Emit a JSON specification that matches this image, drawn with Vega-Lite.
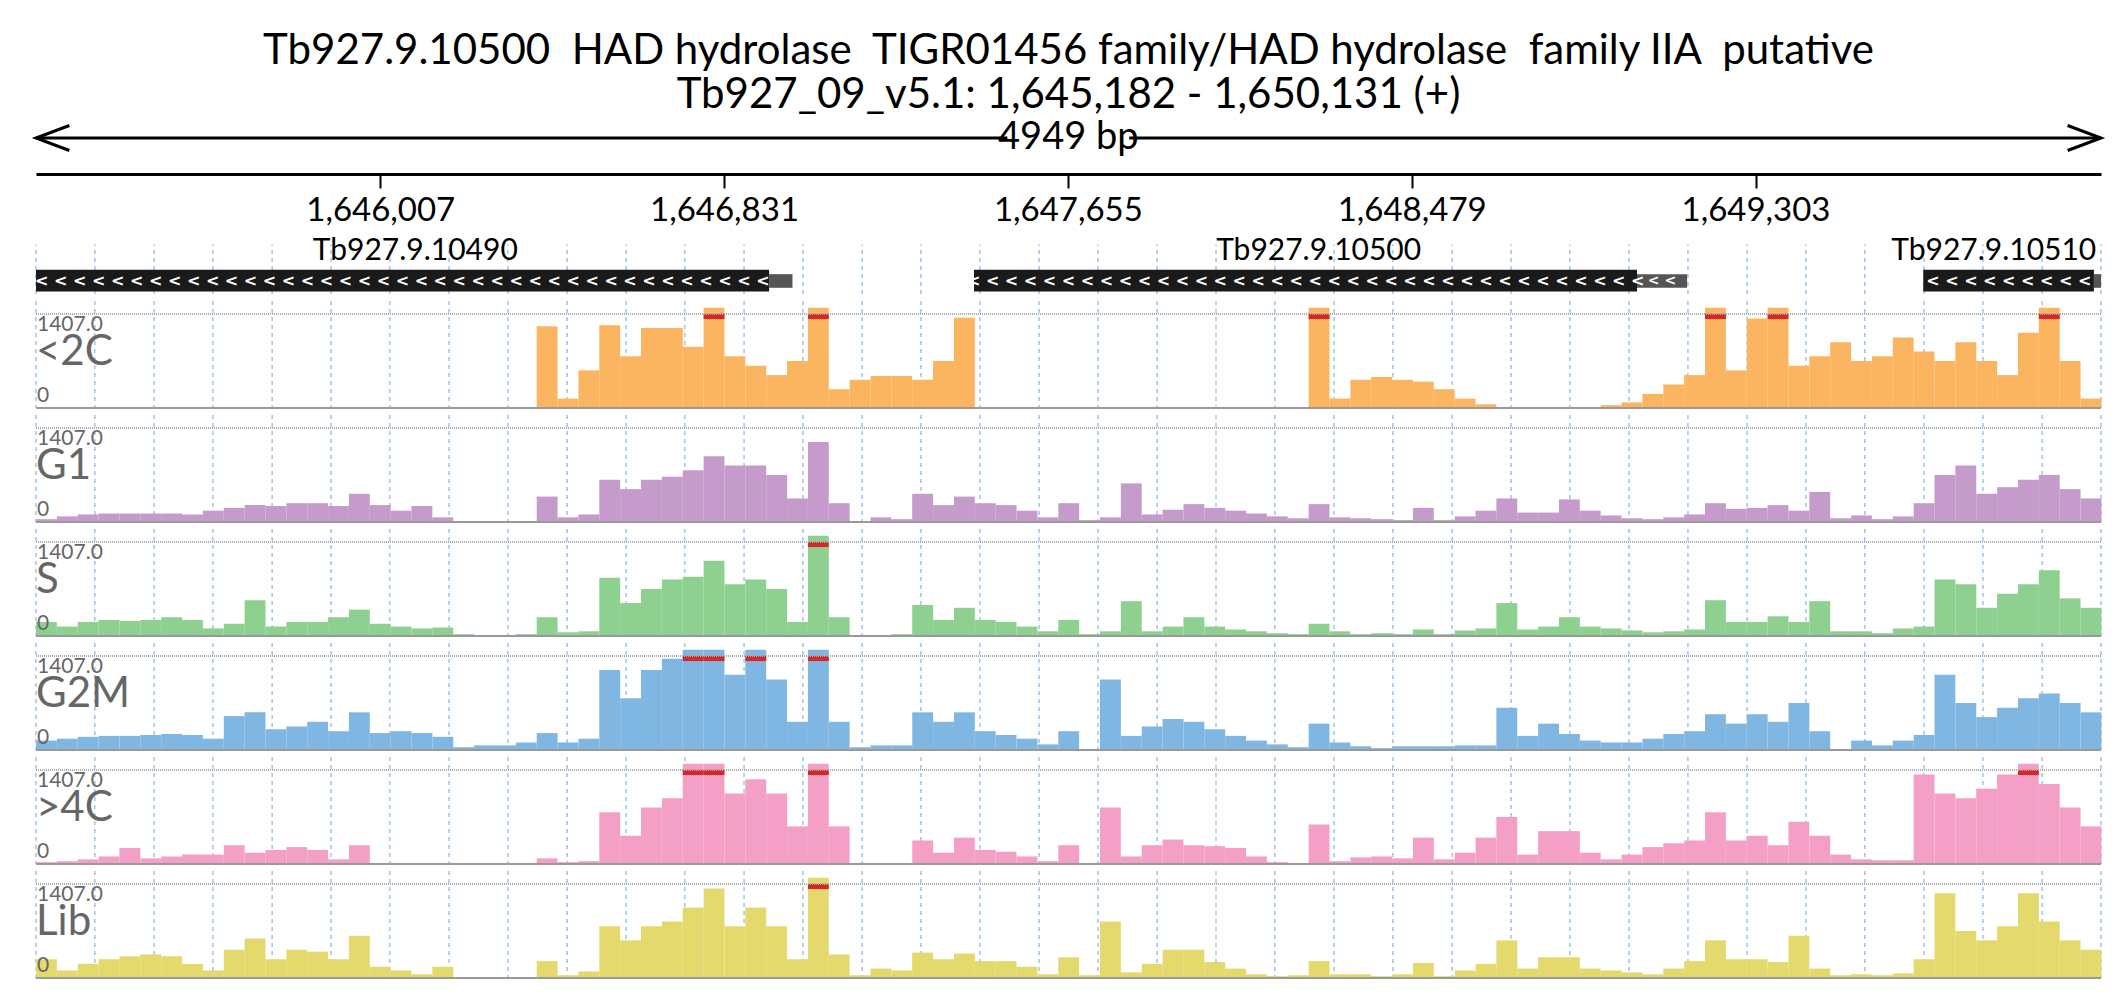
{
  "$schema": "https://vega.github.io/schema/vega-lite/v6.json",
  "background": "white",
  "padding": {"left": 30, "right": 31, "top": 30, "bottom": 0},
  "title": {
    "text": "Tb927.9.10500 \u00a0HAD hydrolase \u00a0TIGR01456 family/HAD hydrolase \u00a0family IIA \u00a0putative",
    "subtitle": "Tb927_09_v5.1: 1,645,182 - 1,650,131 (+)",
    "font": "Lato", "subtitleFont": "Lato", "fontSize": 42, "subtitleFontSize": 42,
    "fontWeight": "normal", "color": "black", "subtitleColor": "black",
    "anchor": "middle", "offset": 2, "subtitlePadding": 2
  },
  "config": {"view": {"stroke": null}, "concat": {"spacing": 5}},
  "datasets": {
    "grid": [
      {"g": 1645182}, {"g": 1645323}, {"g": 1645465}, {"g": 1645606}, {"g": 1645748}, {"g": 1645889},
      {"g": 1646030}, {"g": 1646172}, {"g": 1646313}, {"g": 1646455}, {"g": 1646596}, {"g": 1646737},
      {"g": 1646879}, {"g": 1647020}, {"g": 1647162}, {"g": 1647303}, {"g": 1647444}, {"g": 1647586},
      {"g": 1647727}, {"g": 1647869}, {"g": 1648010}, {"g": 1648151}, {"g": 1648293}, {"g": 1648434},
      {"g": 1648576}, {"g": 1648717}, {"g": 1648858}, {"g": 1649000}, {"g": 1649141}, {"g": 1649283},
      {"g": 1649424}, {"g": 1649565}, {"g": 1649707}, {"g": 1649848}, {"g": 1649990}, {"g": 1650131}
    ],
    "genes": [
      {"name": "Tb927.9.10490", "s": 1645182, "e": 1646939, "ge": 1646995, "lx": 1646091, "cx": 1646060, "chev": "< < < < < < < < < < < < < < < < < < < < < < < < < < < < < < < < < < < < < < <"},
      {"name": "Tb927.9.10500", "s": 1647430, "e": 1649019, "ge": 1649139, "lx": 1648256, "cx": 1648225, "chev": "< < < < < < < < < < < < < < < < < < < < < < < < < < < < < < < < < < < <"},
      {"name": "Tb927.9.10510", "s": 1649705, "e": 1650114, "ge": 1650131, "lx": 1649874, "cx": 1649910, "chev": "< < < < < < < < <"}
    ],
    "cov": [
      {"p":1645182,"q":1645232,"a":0,"b":42,"c":211,"d":141,"e":28,"f":281},
      {"p":1645232,"q":1645282,"a":0,"b":84,"c":141,"d":169,"e":42,"f":113},
      {"p":1645282,"q":1645332,"a":0,"b":113,"c":211,"d":197,"e":70,"f":211},
      {"p":1645332,"q":1645382,"a":0,"b":127,"c":239,"d":211,"e":113,"f":281},
      {"p":1645382,"q":1645432,"a":0,"b":127,"c":225,"d":211,"e":239,"f":324},
      {"p":1645432,"q":1645482,"a":0,"b":127,"c":239,"d":225,"e":84,"f":352},
      {"p":1645482,"q":1645532,"a":0,"b":127,"c":281,"d":239,"e":113,"f":324},
      {"p":1645532,"q":1645582,"a":0,"b":113,"c":239,"d":225,"e":141,"f":211},
      {"p":1645582,"q":1645632,"a":0,"b":169,"c":113,"d":169,"e":141,"f":113},
      {"p":1645632,"q":1645682,"a":0,"b":211,"c":183,"d":507,"e":281,"f":422},
      {"p":1645682,"q":1645732,"a":0,"b":253,"c":535,"d":563,"e":169,"f":591},
      {"p":1645732,"q":1645782,"a":0,"b":239,"c":141,"d":310,"e":211,"f":281},
      {"p":1645782,"q":1645832,"a":0,"b":281,"c":211,"d":352,"e":253,"f":422},
      {"p":1645832,"q":1645882,"a":0,"b":281,"c":211,"d":422,"e":211,"f":394},
      {"p":1645882,"q":1645932,"a":0,"b":239,"c":281,"d":281,"e":70,"f":281},
      {"p":1645932,"q":1645982,"a":0,"b":422,"c":394,"d":563,"e":281,"f":633},
      {"p":1645982,"q":1646032,"a":0,"b":253,"c":183,"d":253,"e":7,"f":169},
      {"p":1646032,"q":1646082,"a":0,"b":169,"c":141,"d":281,"e":7,"f":113},
      {"p":1646082,"q":1646132,"a":0,"b":239,"c":113,"d":253,"e":7,"f":56},
      {"p":1646132,"q":1646182,"a":0,"b":70,"c":127,"d":197,"e":7,"f":169},
      {"p":1646182,"q":1646232,"a":0,"b":7,"c":28,"d":42,"e":7,"f":5},
      {"p":1646232,"q":1646282,"a":0,"b":7,"c":14,"d":70,"e":7,"f":5},
      {"p":1646282,"q":1646332,"a":0,"b":7,"c":14,"d":70,"e":7,"f":5},
      {"p":1646332,"q":1646382,"a":0,"b":7,"c":28,"d":113,"e":7,"f":5},
      {"p":1646382,"q":1646432,"a":1224,"b":380,"c":281,"d":253,"e":84,"f":253},
      {"p":1646432,"q":1646482,"a":141,"b":70,"c":56,"d":113,"e":28,"f":42},
      {"p":1646482,"q":1646532,"a":563,"b":113,"c":70,"d":169,"e":42,"f":98},
      {"p":1646532,"q":1646582,"a":1238,"b":633,"c":872,"d":1196,"e":774,"f":774},
      {"p":1646582,"q":1646632,"a":774,"b":492,"c":492,"d":774,"e":422,"f":563},
      {"p":1646632,"q":1646682,"a":1196,"b":633,"c":704,"d":1196,"e":844,"f":774},
      {"p":1646682,"q":1646732,"a":1196,"b":675,"c":844,"d":1365,"e":985,"f":844},
      {"p":1646732,"q":1646782,"a":915,"b":774,"c":886,"d":1500,"e":1500,"f":1055},
      {"p":1646782,"q":1646832,"a":1500,"b":985,"c":1126,"d":1500,"e":1500,"f":1337},
      {"p":1646832,"q":1646882,"a":774,"b":844,"c":774,"d":1126,"e":1055,"f":774},
      {"p":1646882,"q":1646932,"a":633,"b":844,"c":844,"d":1500,"e":1266,"f":1055},
      {"p":1646932,"q":1646982,"a":492,"b":704,"c":704,"d":1055,"e":1055,"f":774},
      {"p":1646982,"q":1647032,"a":704,"b":352,"c":211,"d":422,"e":563,"f":281},
      {"p":1647032,"q":1647082,"a":1500,"b":1196,"c":1500,"d":1500,"e":1500,"f":1500},
      {"p":1647082,"q":1647132,"a":281,"b":281,"c":281,"d":422,"e":563,"f":352},
      {"p":1647132,"q":1647182,"a":422,"b":14,"c":0,"d":42,"e":0,"f":42},
      {"p":1647182,"q":1647232,"a":478,"b":70,"c":14,"d":70,"e":0,"f":141},
      {"p":1647232,"q":1647282,"a":478,"b":42,"c":28,"d":70,"e":0,"f":113},
      {"p":1647282,"q":1647332,"a":422,"b":422,"c":464,"d":563,"e":352,"f":380},
      {"p":1647332,"q":1647382,"a":704,"b":253,"c":239,"d":422,"e":169,"f":281},
      {"p":1647382,"q":1647432,"a":1351,"b":380,"c":422,"d":563,"e":394,"f":366},
      {"p":1647432,"q":1647482,"a":0,"b":281,"c":239,"d":281,"e":211,"f":253},
      {"p":1647482,"q":1647532,"a":0,"b":253,"c":211,"d":225,"e":183,"f":253},
      {"p":1647532,"q":1647582,"a":0,"b":169,"c":141,"d":169,"e":113,"f":169},
      {"p":1647582,"q":1647632,"a":0,"b":70,"c":70,"d":84,"e":42,"f":56},
      {"p":1647632,"q":1647682,"a":0,"b":281,"c":239,"d":281,"e":281,"f":310},
      {"p":1647682,"q":1647732,"a":0,"b":28,"c":28,"d":14,"e":0,"f":42},
      {"p":1647732,"q":1647782,"a":0,"b":70,"c":70,"d":1055,"e":844,"f":844},
      {"p":1647782,"q":1647832,"a":0,"b":577,"c":521,"d":211,"e":113,"f":84},
      {"p":1647832,"q":1647882,"a":0,"b":113,"c":70,"d":352,"e":281,"f":211},
      {"p":1647882,"q":1647932,"a":0,"b":183,"c":141,"d":464,"e":366,"f":422},
      {"p":1647932,"q":1647982,"a":0,"b":267,"c":281,"d":422,"e":281,"f":422},
      {"p":1647982,"q":1648032,"a":0,"b":211,"c":141,"d":310,"e":267,"f":239},
      {"p":1648032,"q":1648082,"a":0,"b":169,"c":98,"d":211,"e":239,"f":141},
      {"p":1648082,"q":1648132,"a":0,"b":127,"c":70,"d":141,"e":113,"f":56},
      {"p":1648132,"q":1648182,"a":0,"b":84,"c":42,"d":84,"e":28,"f":28},
      {"p":1648182,"q":1648232,"a":0,"b":56,"c":28,"d":42,"e":14,"f":42},
      {"p":1648232,"q":1648282,"a":1500,"b":267,"c":183,"d":394,"e":591,"f":253},
      {"p":1648282,"q":1648332,"a":141,"b":70,"c":70,"d":113,"e":42,"f":56},
      {"p":1648332,"q":1648382,"a":422,"b":56,"c":28,"d":56,"e":98,"f":56},
      {"p":1648382,"q":1648432,"a":464,"b":42,"c":42,"d":28,"e":113,"f":28},
      {"p":1648432,"q":1648482,"a":422,"b":28,"c":28,"d":56,"e":84,"f":56},
      {"p":1648482,"q":1648532,"a":394,"b":211,"c":98,"d":56,"e":394,"f":225},
      {"p":1648532,"q":1648582,"a":281,"b":28,"c":28,"d":56,"e":70,"f":28},
      {"p":1648582,"q":1648632,"a":141,"b":84,"c":84,"d":70,"e":169,"f":113},
      {"p":1648632,"q":1648682,"a":56,"b":169,"c":113,"d":70,"e":394,"f":211},
      {"p":1648682,"q":1648732,"a":14,"b":352,"c":492,"d":633,"e":704,"f":563},
      {"p":1648732,"q":1648782,"a":0,"b":141,"c":98,"d":211,"e":141,"f":141},
      {"p":1648782,"q":1648832,"a":0,"b":141,"c":141,"d":394,"e":492,"f":310},
      {"p":1648832,"q":1648882,"a":7,"b":338,"c":281,"d":239,"e":492,"f":310},
      {"p":1648882,"q":1648932,"a":14,"b":169,"c":141,"d":141,"e":169,"f":141},
      {"p":1648932,"q":1648982,"a":42,"b":98,"c":113,"d":113,"e":70,"f":113},
      {"p":1648982,"q":1649032,"a":84,"b":56,"c":84,"d":113,"e":141,"f":84},
      {"p":1649032,"q":1649082,"a":211,"b":42,"c":56,"d":169,"e":253,"f":56},
      {"p":1649082,"q":1649132,"a":352,"b":70,"c":70,"d":239,"e":310,"f":141},
      {"p":1649132,"q":1649182,"a":492,"b":113,"c":98,"d":281,"e":352,"f":253},
      {"p":1649182,"q":1649232,"a":1500,"b":281,"c":535,"d":535,"e":774,"f":563},
      {"p":1649232,"q":1649282,"a":563,"b":197,"c":211,"d":394,"e":352,"f":281},
      {"p":1649282,"q":1649332,"a":1337,"b":211,"c":211,"d":535,"e":422,"f":281},
      {"p":1649332,"q":1649382,"a":1500,"b":253,"c":295,"d":422,"e":281,"f":239},
      {"p":1649382,"q":1649432,"a":633,"b":169,"c":211,"d":704,"e":633,"f":633},
      {"p":1649432,"q":1649482,"a":774,"b":450,"c":521,"d":281,"e":422,"f":141},
      {"p":1649482,"q":1649532,"a":985,"b":56,"c":70,"d":0,"e":141,"f":42},
      {"p":1649532,"q":1649582,"a":704,"b":98,"c":70,"d":141,"e":70,"f":56},
      {"p":1649582,"q":1649632,"a":774,"b":42,"c":42,"d":70,"e":56,"f":42},
      {"p":1649632,"q":1649682,"a":1055,"b":84,"c":113,"d":141,"e":56,"f":70},
      {"p":1649682,"q":1649732,"a":844,"b":281,"c":141,"d":225,"e":1337,"f":281},
      {"p":1649732,"q":1649782,"a":704,"b":704,"c":844,"d":1126,"e":1055,"f":1266},
      {"p":1649782,"q":1649832,"a":985,"b":844,"c":774,"d":704,"e":985,"f":704},
      {"p":1649832,"q":1649882,"a":704,"b":422,"c":422,"d":492,"e":1126,"f":563},
      {"p":1649882,"q":1649932,"a":492,"b":521,"c":633,"d":633,"e":1337,"f":774},
      {"p":1649932,"q":1649982,"a":1126,"b":633,"c":774,"d":774,"e":1500,"f":1266},
      {"p":1649982,"q":1650032,"a":1500,"b":704,"c":985,"d":844,"e":1196,"f":844},
      {"p":1650032,"q":1650082,"a":704,"b":492,"c":563,"d":704,"e":844,"f":563},
      {"p":1650082,"q":1650132,"a":141,"b":352,"c":422,"d":563,"e":563,"f":422}
    ],
    "arrow": [
      {"k": "L", "o": 1, "x": 1645262, "y": 0.97},
      {"k": "L", "o": 2, "x": 1645182, "y": 0.72},
      {"k": "L", "o": 3, "x": 1645262, "y": 0.47},
      {"k": "R", "o": 1, "x": 1650051, "y": 0.97},
      {"k": "R", "o": 2, "x": 1650131, "y": 0.72},
      {"k": "R", "o": 3, "x": 1650051, "y": 0.47}
    ]
  },
  "vconcat": [
    {
      "width": 2065, "height": 50,
      "layer": [
        {
          "data": {"values": [{"x": 1645182, "x2": 1650131, "y": 0.72}]},
          "mark": {"type": "rule", "color": "black", "strokeWidth": 3},
          "encoding": {
            "x": {"field": "x", "type": "quantitative", "scale": {"domain": [1645182, 1650131], "nice": false, "zero": false},
              "axis": {"orient": "bottom", "values": [1646007, 1646831, 1647655, 1648479, 1649303], "format": ",d",
                "domainColor": "black", "domainWidth": 3, "tickColor": "black", "tickWidth": 2, "tickSize": 14,
                "labelFont": "Lato", "labelFontSize": 33, "labelColor": "black", "labelPadding": 6, "grid": false, "title": null}},
            "x2": {"field": "x2"},
            "y": {"field": "y", "type": "quantitative", "scale": {"domain": [0, 1]}, "axis": null}
          }
        },
        {
          "data": {"values": [{"x": 1647510, "x2": 1647802, "y": 0.3, "y2": 1.0}]},
          "mark": {"type": "rect", "color": "white"},
          "encoding": {"x": {"field": "x", "type": "quantitative"}, "x2": {"field": "x2"}, "y": {"field": "y", "type": "quantitative"}, "y2": {"field": "y2"}}
        },
        {
          "data": {"values": [{"x": 1647656, "y": 0.72, "t": "4949 bp"}]},
          "mark": {"type": "text", "font": "Lato", "fontSize": 38, "color": "black", "baseline": "middle"},
          "encoding": {"x": {"field": "x", "type": "quantitative"}, "y": {"field": "y", "type": "quantitative"}, "text": {"field": "t"}}
        },
        {
          "data": {"name": "arrow"},
          "mark": {"type": "line", "color": "black", "strokeWidth": 3},
          "encoding": {"x": {"field": "x", "type": "quantitative"}, "y": {"field": "y", "type": "quantitative"}, "detail": {"field": "k"}, "order": {"field": "o"}}
        }
      ]
    },
    {
      "width": 2065, "height": 62,
      "layer": [
        {
          "data": {"name": "grid"},
          "mark": {"type": "rule", "color": "#9fc5e8", "strokeDash": [4, 4], "strokeWidth": 1.5},
          "encoding": {
            "x": {"field": "g", "type": "quantitative", "scale": {"domain": [1645182, 1650131], "nice": false, "zero": false}, "axis": null},
            "y": {"datum": 0, "scale": {"domain": [0, 1]}, "axis": null}, "y2": {"datum": 0.8}
          }
        },
        {
          "data": {"name": "genes"},
          "mark": {"type": "rect", "color": "#555555"},
          "encoding": {"x": {"field": "e", "type": "quantitative"}, "x2": {"field": "ge"}, "y": {"datum": 0.1}, "y2": {"datum": 0.32}}
        },
        {
          "data": {"name": "genes"},
          "mark": {"type": "rect", "color": "#1a1a1a"},
          "encoding": {"x": {"field": "s", "type": "quantitative"}, "x2": {"field": "e"}, "y": {"datum": 0.04}, "y2": {"datum": 0.39}}
        },
        {
          "data": {"name": "genes"},
          "mark": {"type": "text", "color": "white", "font": "DejaVu Sans", "fontSize": 16, "fontWeight": "bold", "baseline": "middle"},
          "encoding": {"x": {"field": "cx", "type": "quantitative"}, "y": {"datum": 0.21}, "text": {"field": "chev"}}
        },
        {
          "data": {"values": [{"x": 1649079, "t": "< <"}]},
          "mark": {"type": "text", "color": "white", "font": "DejaVu Sans", "fontSize": 14, "fontWeight": "bold", "baseline": "middle"},
          "encoding": {"x": {"field": "x", "type": "quantitative"}, "y": {"datum": 0.21}, "text": {"field": "t"}}
        },
        {
          "data": {"name": "genes"},
          "mark": {"type": "text", "color": "black", "font": "Lato", "fontSize": 30, "baseline": "middle"},
          "encoding": {"x": {"field": "lx", "type": "quantitative"}, "y": {"datum": 0.7}, "text": {"field": "name"}}
        }
      ]
    },
    {
      "width": 2065, "height": 107,
      "layer": [
        {"data": {"name": "grid"}, "mark": {"type": "rule", "color": "#9fc5e8", "strokeDash": [4, 4], "strokeWidth": 1.5},
          "encoding": {"x": {"field": "g", "type": "quantitative", "scale": {"domain": [1645182, 1650131], "nice": false, "zero": false}, "axis": null}}},
        {"data": {"name": "cov"}, "mark": {"type": "rect", "color": "#fbb460"},
          "encoding": {"x": {"field": "p", "type": "quantitative"}, "x2": {"field": "q"},
            "y": {"field": "a", "type": "quantitative", "scale": {"domain": [0, 1407], "clamp": true}, "axis": null}, "y2": {"datum": 0}}},
        {"data": {"name": "cov"}, "transform": [{"filter": "datum.a >= 1407"}], "mark": {"type": "rect", "color": "#d62728"},
          "encoding": {"x": {"field": "p", "type": "quantitative"}, "x2": {"field": "q"}, "y": {"datum": 1407}, "y2": {"datum": 1330}}},
        {"data": {"values": [{}]}, "mark": {"type": "rule", "color": "#aaaaaa", "strokeDash": [1, 1], "strokeWidth": 2}, "encoding": {"y": {"datum": 1407}}},
        {"data": {"values": [{}]}, "mark": {"type": "rule", "color": "#999999", "strokeWidth": 2}, "encoding": {"y": {"datum": 0}}},
        {"data": {"values": [{"t": "1407.0"}]}, "mark": {"type": "text", "font": "Lato", "fontSize": 21, "color": "#666666", "align": "left", "baseline": "top", "dx": 1},
          "encoding": {"x": {"datum": 1645182}, "y": {"datum": 1407}, "text": {"field": "t"}}},
        {"data": {"values": [{"t": "<2C"}]}, "mark": {"type": "text", "font": "Lato", "fontSize": 42, "color": "#666666", "align": "left", "baseline": "middle"},
          "encoding": {"x": {"datum": 1645182}, "y": {"datum": 840}, "text": {"field": "t"}}},
        {"data": {"values": [{"t": "0"}]}, "mark": {"type": "text", "font": "Lato", "fontSize": 21, "color": "#666666", "align": "left", "baseline": "bottom", "dx": 1, "dy": -2},
          "encoding": {"x": {"datum": 1645182}, "y": {"datum": 0}, "text": {"field": "t"}}}
      ]
    },
    {
      "width": 2065, "height": 107,
      "layer": [
        {"data": {"name": "grid"}, "mark": {"type": "rule", "color": "#9fc5e8", "strokeDash": [4, 4], "strokeWidth": 1.5},
          "encoding": {"x": {"field": "g", "type": "quantitative", "scale": {"domain": [1645182, 1650131], "nice": false, "zero": false}, "axis": null}}},
        {"data": {"name": "cov"}, "mark": {"type": "rect", "color": "#c49bca"},
          "encoding": {"x": {"field": "p", "type": "quantitative"}, "x2": {"field": "q"},
            "y": {"field": "b", "type": "quantitative", "scale": {"domain": [0, 1407], "clamp": true}, "axis": null}, "y2": {"datum": 0}}},
        {"data": {"name": "cov"}, "transform": [{"filter": "datum.b >= 1407"}], "mark": {"type": "rect", "color": "#d62728"},
          "encoding": {"x": {"field": "p", "type": "quantitative"}, "x2": {"field": "q"}, "y": {"datum": 1407}, "y2": {"datum": 1330}}},
        {"data": {"values": [{}]}, "mark": {"type": "rule", "color": "#aaaaaa", "strokeDash": [1, 1], "strokeWidth": 2}, "encoding": {"y": {"datum": 1407}}},
        {"data": {"values": [{}]}, "mark": {"type": "rule", "color": "#999999", "strokeWidth": 2}, "encoding": {"y": {"datum": 0}}},
        {"data": {"values": [{"t": "1407.0"}]}, "mark": {"type": "text", "font": "Lato", "fontSize": 21, "color": "#666666", "align": "left", "baseline": "top", "dx": 1},
          "encoding": {"x": {"datum": 1645182}, "y": {"datum": 1407}, "text": {"field": "t"}}},
        {"data": {"values": [{"t": "G1"}]}, "mark": {"type": "text", "font": "Lato", "fontSize": 42, "color": "#666666", "align": "left", "baseline": "middle"},
          "encoding": {"x": {"datum": 1645182}, "y": {"datum": 840}, "text": {"field": "t"}}},
        {"data": {"values": [{"t": "0"}]}, "mark": {"type": "text", "font": "Lato", "fontSize": 21, "color": "#666666", "align": "left", "baseline": "bottom", "dx": 1, "dy": -2},
          "encoding": {"x": {"datum": 1645182}, "y": {"datum": 0}, "text": {"field": "t"}}}
      ]
    },
    {
      "width": 2065, "height": 107,
      "layer": [
        {"data": {"name": "grid"}, "mark": {"type": "rule", "color": "#9fc5e8", "strokeDash": [4, 4], "strokeWidth": 1.5},
          "encoding": {"x": {"field": "g", "type": "quantitative", "scale": {"domain": [1645182, 1650131], "nice": false, "zero": false}, "axis": null}}},
        {"data": {"name": "cov"}, "mark": {"type": "rect", "color": "#8dd08f"},
          "encoding": {"x": {"field": "p", "type": "quantitative"}, "x2": {"field": "q"},
            "y": {"field": "c", "type": "quantitative", "scale": {"domain": [0, 1407], "clamp": true}, "axis": null}, "y2": {"datum": 0}}},
        {"data": {"name": "cov"}, "transform": [{"filter": "datum.c >= 1407"}], "mark": {"type": "rect", "color": "#d62728"},
          "encoding": {"x": {"field": "p", "type": "quantitative"}, "x2": {"field": "q"}, "y": {"datum": 1407}, "y2": {"datum": 1330}}},
        {"data": {"values": [{}]}, "mark": {"type": "rule", "color": "#aaaaaa", "strokeDash": [1, 1], "strokeWidth": 2}, "encoding": {"y": {"datum": 1407}}},
        {"data": {"values": [{}]}, "mark": {"type": "rule", "color": "#999999", "strokeWidth": 2}, "encoding": {"y": {"datum": 0}}},
        {"data": {"values": [{"t": "1407.0"}]}, "mark": {"type": "text", "font": "Lato", "fontSize": 21, "color": "#666666", "align": "left", "baseline": "top", "dx": 1},
          "encoding": {"x": {"datum": 1645182}, "y": {"datum": 1407}, "text": {"field": "t"}}},
        {"data": {"values": [{"t": "S"}]}, "mark": {"type": "text", "font": "Lato", "fontSize": 42, "color": "#666666", "align": "left", "baseline": "middle"},
          "encoding": {"x": {"datum": 1645182}, "y": {"datum": 840}, "text": {"field": "t"}}},
        {"data": {"values": [{"t": "0"}]}, "mark": {"type": "text", "font": "Lato", "fontSize": 21, "color": "#666666", "align": "left", "baseline": "bottom", "dx": 1, "dy": -2},
          "encoding": {"x": {"datum": 1645182}, "y": {"datum": 0}, "text": {"field": "t"}}}
      ]
    },
    {
      "width": 2065, "height": 107,
      "layer": [
        {"data": {"name": "grid"}, "mark": {"type": "rule", "color": "#9fc5e8", "strokeDash": [4, 4], "strokeWidth": 1.5},
          "encoding": {"x": {"field": "g", "type": "quantitative", "scale": {"domain": [1645182, 1650131], "nice": false, "zero": false}, "axis": null}}},
        {"data": {"name": "cov"}, "mark": {"type": "rect", "color": "#80b6e2"},
          "encoding": {"x": {"field": "p", "type": "quantitative"}, "x2": {"field": "q"},
            "y": {"field": "d", "type": "quantitative", "scale": {"domain": [0, 1407], "clamp": true}, "axis": null}, "y2": {"datum": 0}}},
        {"data": {"name": "cov"}, "transform": [{"filter": "datum.d >= 1407"}], "mark": {"type": "rect", "color": "#d62728"},
          "encoding": {"x": {"field": "p", "type": "quantitative"}, "x2": {"field": "q"}, "y": {"datum": 1407}, "y2": {"datum": 1330}}},
        {"data": {"values": [{}]}, "mark": {"type": "rule", "color": "#aaaaaa", "strokeDash": [1, 1], "strokeWidth": 2}, "encoding": {"y": {"datum": 1407}}},
        {"data": {"values": [{}]}, "mark": {"type": "rule", "color": "#999999", "strokeWidth": 2}, "encoding": {"y": {"datum": 0}}},
        {"data": {"values": [{"t": "1407.0"}]}, "mark": {"type": "text", "font": "Lato", "fontSize": 21, "color": "#666666", "align": "left", "baseline": "top", "dx": 1},
          "encoding": {"x": {"datum": 1645182}, "y": {"datum": 1407}, "text": {"field": "t"}}},
        {"data": {"values": [{"t": "G2M"}]}, "mark": {"type": "text", "font": "Lato", "fontSize": 42, "color": "#666666", "align": "left", "baseline": "middle"},
          "encoding": {"x": {"datum": 1645182}, "y": {"datum": 840}, "text": {"field": "t"}}},
        {"data": {"values": [{"t": "0"}]}, "mark": {"type": "text", "font": "Lato", "fontSize": 21, "color": "#666666", "align": "left", "baseline": "bottom", "dx": 1, "dy": -2},
          "encoding": {"x": {"datum": 1645182}, "y": {"datum": 0}, "text": {"field": "t"}}}
      ]
    },
    {
      "width": 2065, "height": 107,
      "layer": [
        {"data": {"name": "grid"}, "mark": {"type": "rule", "color": "#9fc5e8", "strokeDash": [4, 4], "strokeWidth": 1.5},
          "encoding": {"x": {"field": "g", "type": "quantitative", "scale": {"domain": [1645182, 1650131], "nice": false, "zero": false}, "axis": null}}},
        {"data": {"name": "cov"}, "mark": {"type": "rect", "color": "#f4a0c6"},
          "encoding": {"x": {"field": "p", "type": "quantitative"}, "x2": {"field": "q"},
            "y": {"field": "e", "type": "quantitative", "scale": {"domain": [0, 1407], "clamp": true}, "axis": null}, "y2": {"datum": 0}}},
        {"data": {"name": "cov"}, "transform": [{"filter": "datum.e >= 1407"}], "mark": {"type": "rect", "color": "#d62728"},
          "encoding": {"x": {"field": "p", "type": "quantitative"}, "x2": {"field": "q"}, "y": {"datum": 1407}, "y2": {"datum": 1330}}},
        {"data": {"values": [{}]}, "mark": {"type": "rule", "color": "#aaaaaa", "strokeDash": [1, 1], "strokeWidth": 2}, "encoding": {"y": {"datum": 1407}}},
        {"data": {"values": [{}]}, "mark": {"type": "rule", "color": "#999999", "strokeWidth": 2}, "encoding": {"y": {"datum": 0}}},
        {"data": {"values": [{"t": "1407.0"}]}, "mark": {"type": "text", "font": "Lato", "fontSize": 21, "color": "#666666", "align": "left", "baseline": "top", "dx": 1},
          "encoding": {"x": {"datum": 1645182}, "y": {"datum": 1407}, "text": {"field": "t"}}},
        {"data": {"values": [{"t": ">4C"}]}, "mark": {"type": "text", "font": "Lato", "fontSize": 42, "color": "#666666", "align": "left", "baseline": "middle"},
          "encoding": {"x": {"datum": 1645182}, "y": {"datum": 840}, "text": {"field": "t"}}},
        {"data": {"values": [{"t": "0"}]}, "mark": {"type": "text", "font": "Lato", "fontSize": 21, "color": "#666666", "align": "left", "baseline": "bottom", "dx": 1, "dy": -2},
          "encoding": {"x": {"datum": 1645182}, "y": {"datum": 0}, "text": {"field": "t"}}}
      ]
    },
    {
      "width": 2065, "height": 107,
      "layer": [
        {"data": {"name": "grid"}, "mark": {"type": "rule", "color": "#9fc5e8", "strokeDash": [4, 4], "strokeWidth": 1.5},
          "encoding": {"x": {"field": "g", "type": "quantitative", "scale": {"domain": [1645182, 1650131], "nice": false, "zero": false}, "axis": null}}},
        {"data": {"name": "cov"}, "mark": {"type": "rect", "color": "#e4d96c"},
          "encoding": {"x": {"field": "p", "type": "quantitative"}, "x2": {"field": "q"},
            "y": {"field": "f", "type": "quantitative", "scale": {"domain": [0, 1407], "clamp": true}, "axis": null}, "y2": {"datum": 0}}},
        {"data": {"name": "cov"}, "transform": [{"filter": "datum.f >= 1407"}], "mark": {"type": "rect", "color": "#d62728"},
          "encoding": {"x": {"field": "p", "type": "quantitative"}, "x2": {"field": "q"}, "y": {"datum": 1407}, "y2": {"datum": 1330}}},
        {"data": {"values": [{}]}, "mark": {"type": "rule", "color": "#aaaaaa", "strokeDash": [1, 1], "strokeWidth": 2}, "encoding": {"y": {"datum": 1407}}},
        {"data": {"values": [{}]}, "mark": {"type": "rule", "color": "#999999", "strokeWidth": 2}, "encoding": {"y": {"datum": 0}}},
        {"data": {"values": [{"t": "1407.0"}]}, "mark": {"type": "text", "font": "Lato", "fontSize": 21, "color": "#666666", "align": "left", "baseline": "top", "dx": 1},
          "encoding": {"x": {"datum": 1645182}, "y": {"datum": 1407}, "text": {"field": "t"}}},
        {"data": {"values": [{"t": "Lib"}]}, "mark": {"type": "text", "font": "Lato", "fontSize": 42, "color": "#666666", "align": "left", "baseline": "middle"},
          "encoding": {"x": {"datum": 1645182}, "y": {"datum": 840}, "text": {"field": "t"}}},
        {"data": {"values": [{"t": "0"}]}, "mark": {"type": "text", "font": "Lato", "fontSize": 21, "color": "#666666", "align": "left", "baseline": "bottom", "dx": 1, "dy": -2},
          "encoding": {"x": {"datum": 1645182}, "y": {"datum": 0}, "text": {"field": "t"}}}
      ]
    }
  ]
}
